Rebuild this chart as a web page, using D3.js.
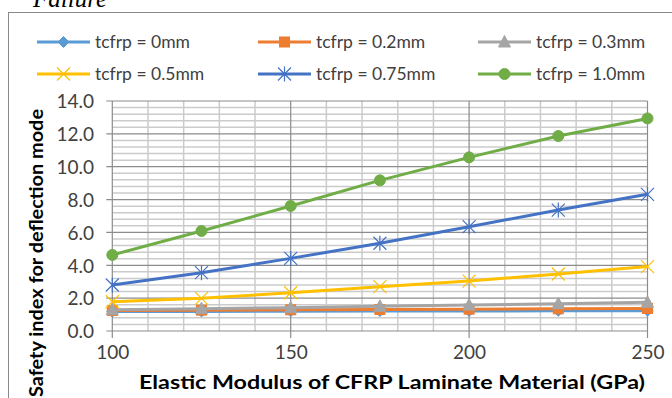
<!DOCTYPE html>
<html>
<head>
<meta charset="utf-8">
<script src="https://cdn.jsdelivr.net/npm/d3@7"></script>
<style>
  html, body { margin: 0; padding: 0; background: #fff; }
  svg { display: block; }
</style>
</head>
<body>
<svg id="chart" width="672" height="398"></svg>
<script>
// ---- data ----
const modulus = [100, 125, 150, 175, 200, 225, 250];
const seriesNames = ["tcfrp = 0mm", "tcfrp = 0.2mm", "tcfrp = 0.3mm", "tcfrp = 0.5mm", "tcfrp = 0.75mm", "tcfrp = 1.0mm"];
const t0mm   = [1.18, 1.19, 1.20, 1.21, 1.22, 1.23, 1.24];
const t02mm  = [1.25, 1.27, 1.29, 1.31, 1.33, 1.35, 1.37];
const t03mm  = [1.30, 1.36, 1.42, 1.50, 1.58, 1.66, 1.75];
const t05mm  = [1.78, 1.99, 2.33, 2.70, 3.04, 3.47, 3.92];
const t075mm = [2.80, 3.55, 4.42, 5.34, 6.35, 7.36, 8.32];
const t10mm  = [4.63, 6.09, 7.61, 9.17, 10.57, 11.87, 12.94];
const xTicks = [100, 150, 200, 250];
const yTicks = [0, 2, 4, 6, 8, 10, 12, 14];
const xTitle = "Elastic Modulus of CFRP Laminate Material (GPa)";
const yTitle = "Safety index for deflection mode";
const topText = "Failure";

const seriesValues = [t0mm, t02mm, t03mm, t05mm, t075mm, t10mm];
const colors = ["#5B9BD5", "#ED7D31", "#A5A5A5", "#FFC000", "#4472C4", "#70AD47"];
const markers = ["diamond", "square", "triangle", "x", "asterisk", "circle"];

const svg = d3.select("#chart");
const font = "Lato, 'Open Sans', sans-serif";

const x = d3.scaleLinear().domain([100, 250]).range([112.3, 647.5]);
const y = d3.scaleLinear().domain([0, 14]).range([331, 101]);

// outer chart border and cropped caption above
svg.append("text").attr("x", 33).attr("y", 7)
  .attr("font-family", "'Liberation Serif', 'DejaVu Serif', serif")
  .attr("font-style", "italic").attr("font-size", 25).attr("fill", "#000")
  .text(topText);
svg.append("rect").attr("x", 8.5).attr("y", 12.5).attr("width", 700).attr("height", 420)
  .attr("fill", "none").attr("stroke", "#8a8a8a").attr("stroke-width", 1);

// grid
const g = svg.append("g");
const minorY = d3.range(0, 14.001, 0.4).filter(v => Math.abs(v / 2 - Math.round(v / 2)) > 1e-6);
const minorX = d3.range(100, 250.001, 10).filter(v => v % 50 !== 0);
g.selectAll(".mny").data(minorY).join("line")
  .attr("x1", x(100)).attr("x2", x(250))
  .attr("y1", d => y(d)).attr("y2", d => y(d))
  .attr("stroke", "#cbcbcb").attr("stroke-width", 1.5);
g.selectAll(".mnx").data(minorX).join("line")
  .attr("x1", d => x(d)).attr("x2", d => x(d))
  .attr("y1", y(0)).attr("y2", y(14))
  .attr("stroke", "#cbcbcb").attr("stroke-width", 1.5);
g.selectAll(".mjy").data(yTicks).join("line")
  .attr("x1", x(100) - 6).attr("x2", x(250))
  .attr("y1", d => y(d)).attr("y2", d => y(d))
  .attr("stroke", "#8c8c8c").attr("stroke-width", 1.2);
g.selectAll(".mjx").data(xTicks).join("line")
  .attr("x1", d => x(d)).attr("x2", d => x(d))
  .attr("y1", y(0) + 7).attr("y2", y(14))
  .attr("stroke", "#8c8c8c").attr("stroke-width", 1.2);

// axes labels via d3 axes
const yAxis = d3.axisLeft(y).tickValues(yTicks).tickFormat(d3.format(".1f")).tickSize(0).tickPadding(0);
const ya = svg.append("g").attr("transform", "translate(94,0)").call(yAxis);
ya.select(".domain").remove();
ya.selectAll("text").attr("font-family", font).attr("font-size", 19).attr("fill", "#404040")
  .attr("dy", "0.36em");

const xAxis = d3.axisBottom(x).tickValues(xTicks).tickFormat(d3.format("d")).tickSize(0).tickPadding(0);
const xa = svg.append("g").attr("transform", "translate(0,345)").call(xAxis);
xa.select(".domain").remove();
xa.selectAll("text").attr("font-family", font).attr("font-size", 19).attr("fill", "#404040")
  .attr("dy", "0.71em");

// titles
svg.append("text").attr("x", 392).attr("y", 389).attr("text-anchor", "middle")
  .attr("font-family", font).attr("font-weight", "bold").attr("font-size", 19).attr("fill", "#000")
  .attr("textLength", 506).attr("lengthAdjust", "spacingAndGlyphs")
  .text(xTitle);
svg.append("text").attr("transform", "translate(43,253) rotate(-90)").attr("text-anchor", "middle")
  .attr("font-family", font).attr("font-weight", "bold").attr("font-size", 19).attr("fill", "#000")
  .attr("textLength", 288).attr("lengthAdjust", "spacingAndGlyphs")
  .text(yTitle);

// marker drawer
function drawMarker(sel, type, color) {
  if (type === "diamond") {
    sel.append("path").attr("d", "M0,-5.5L5.5,0L0,5.5L-5.5,0Z").attr("fill", color).attr("stroke", color);
  } else if (type === "square") {
    sel.append("rect").attr("x", -5).attr("y", -5).attr("width", 10).attr("height", 10)
      .attr("fill", color).attr("stroke", color);
  } else if (type === "triangle") {
    sel.append("path").attr("d", "M0,-6.5L6,5L-6,5Z").attr("fill", color).attr("stroke", color);
  } else if (type === "x") {
    sel.append("path").attr("d", "M-6.5,-6.5L6.5,6.5M-6.5,6.5L6.5,-6.5").attr("stroke", color).attr("stroke-width", 1.2).attr("fill", "none");
  } else if (type === "asterisk") {
    sel.append("path").attr("d", "M-6.5,-6.5L6.5,6.5M-6.5,6.5L6.5,-6.5M0,-7.5L0,7.5").attr("stroke", color).attr("stroke-width", 1.2).attr("fill", "none");
  } else if (type === "circle") {
    sel.append("circle").attr("r", 5.5).attr("fill", color).attr("stroke", color);
  }
}

// series
const line = d3.line().x((d, i) => x(modulus[i])).y(d => y(d));
seriesValues.forEach((vals, si) => {
  const sg = svg.append("g");
  sg.append("path").datum(vals).attr("d", line).attr("fill", "none")
    .attr("stroke", colors[si]).attr("stroke-width", 3).attr("stroke-linejoin", "round");
  vals.forEach((v, i) => {
    const m = sg.append("g").attr("transform", `translate(${x(modulus[i])},${y(v)})`);
    drawMarker(m, markers[si], colors[si]);
  });
});

// legend
const legX = [37, 258, 478];
const legY = [42, 74];
seriesNames.forEach((name, i) => {
  const col = i % 3, row = Math.floor(i / 3);
  const lg = svg.append("g").attr("transform", `translate(${legX[col]},${legY[row]})`);
  lg.append("line").attr("x1", 0).attr("x2", 53).attr("y1", 0).attr("y2", 0)
    .attr("stroke", colors[i]).attr("stroke-width", 3);
  const m = lg.append("g").attr("transform", "translate(26.5,0)");
  drawMarker(m, markers[i], colors[i]);
  lg.append("text").attr("x", 58).attr("y", 0).attr("dy", "0.36em")
    .attr("font-family", font).attr("font-size", 17.5).attr("fill", "#404040").text(name);
});
</script>
</body>
</html>
